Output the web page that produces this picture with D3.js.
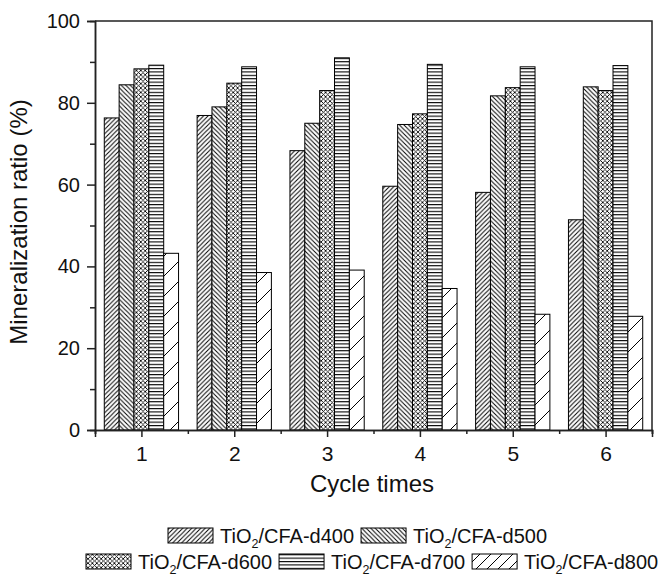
<!DOCTYPE html>
<html>
<head>
<meta charset="utf-8">
<script src="https://cdn.jsdelivr.net/npm/d3@7"></script>
<style>
  html, body { margin: 0; padding: 0; background: #fff; }
  svg { display: block; font-family: "Liberation Sans", Arial, Helvetica, sans-serif; }
</style>
</head>
<body>
<svg id="chart" width="662" height="577"></svg>
<script>
// ---- data ----
const categories = [1, 2, 3, 4, 5, 6];
const seriesNames = ["d400", "d500", "d600", "d700", "d800"];
const d400 = [76.3, 76.9, 68.3, 59.6, 58.1, 51.4];
const d500 = [84.4, 79.0, 75.0, 74.7, 81.7, 83.9];
const d600 = [88.3, 84.8, 83.0, 77.3, 83.7, 83.0];
const d700 = [89.2, 88.8, 91.0, 89.4, 88.8, 89.1];
const d800 = [43.2, 38.5, 39.1, 34.6, 28.3, 27.8];
const yTicks = [0, 20, 40, 60, 80, 100];
const yMinorTicks = [10, 30, 50, 70, 90];
const xMinorTicks = [0.5, 1.5, 2.5, 3.5, 4.5, 5.5, 6.5];
const yTitle = "Mineralization ratio (%)";
const xTitle = "Cycle times";

const seriesValues = [d400, d500, d600, d700, d800];

// ---- layout ----
const svg = d3.select("#chart");
const mLeft = 95, mRight = 652, mTop = 21, mBottom = 430;

const x = d3.scaleLinear().domain([0.5, 6.5]).range([mLeft, mRight]);
const y = d3.scaleLinear().domain([0, 100]).range([mBottom, mTop]);
const barW = (x(1) - x(0)) * 0.16;

// ---- patterns ----
const defs = svg.append("defs");
function linePattern(id, size, pathD, sw) {
  const p = defs.append("pattern").attr("id", id)
    .attr("patternUnits", "userSpaceOnUse")
    .attr("width", size).attr("height", size);
  p.append("rect").attr("width", size).attr("height", size).attr("fill", "#fff");
  p.append("path").attr("d", pathD).attr("stroke", "#000")
    .attr("stroke-width", sw).attr("fill", "none");
}
function fwd(s) { return `M${-s/2},${s/2} L${s/2},${-s/2} M0,${s} L${s},0 M${s/2},${s*1.5} L${s*1.5},${s/2}`; }
function bwd(s) { return `M${-s/2},${s/2} L${s/2},${s*1.5} M0,0 L${s},${s} M${s/2},${-s/2} L${s*1.5},${s/2}`; }

linePattern("p-d400", 4.5, fwd(4.5), 1);
linePattern("p-d500", 4.5, bwd(4.5), 1);
linePattern("p-d600", 4.4, fwd(4.4) + " " + bwd(4.4), 0.85);
(function () {
  const p = defs.append("pattern").attr("id", "p-d700")
    .attr("patternUnits", "userSpaceOnUse").attr("width", 6).attr("height", 3.4);
  p.append("rect").attr("width", 6).attr("height", 3.4).attr("fill", "#fff");
  p.append("rect").attr("y", 0).attr("width", 6).attr("height", 1.1).attr("fill", "#000");
})();
linePattern("p-d800", 20, fwd(20), 1);
linePattern("p-d800L", 11, fwd(11), 1);

const fills = { d400: "url(#p-d400)", d500: "url(#p-d500)", d600: "url(#p-d600)", d700: "url(#p-d700)", d800: "url(#p-d800)" };
const legendFills = { d400: "url(#p-d400)", d500: "url(#p-d500)", d600: "url(#p-d600)", d700: "url(#p-d700)", d800: "url(#p-d800L)" };

// ---- bars ----
const barsG = svg.append("g");
seriesNames.forEach((name, si) => {
  barsG.selectAll(null)
    .data(categories.map((c, i) => ({ c, v: seriesValues[si][i] })))
    .enter().append("rect")
    .attr("x", d => x(d.c) + (si - 2.5) * barW)
    .attr("y", d => y(d.v))
    .attr("width", barW)
    .attr("height", d => y(0) - y(d.v))
    .attr("fill", fills[name])
    .attr("stroke", "#000")
    .attr("stroke-width", 1);
});

// ---- frame ----
svg.append("path")
  .attr("d", `M${mLeft},${mTop} H${mRight} V${mBottom}`)
  .attr("fill", "none").attr("stroke", "#222").attr("stroke-width", 1.5);

// ---- axes ----
function styleAxis(g) {
  g.selectAll(".domain").attr("stroke", "#222").attr("stroke-width", 1.5);
  g.selectAll(".tick line").attr("stroke", "#222").attr("stroke-width", 1.5);
  g.selectAll(".tick text").attr("fill", "#111");
}

const xMinor = svg.append("g").attr("transform", `translate(0,${mBottom})`)
  .call(d3.axisBottom(x).tickValues(xMinorTicks).tickSize(4).tickFormat(""));
styleAxis(xMinor);
const xAxis = svg.append("g").attr("transform", `translate(0,${mBottom})`)
  .call(d3.axisBottom(x).tickValues(categories).tickSize(7).tickPadding(9).tickFormat(d3.format("d")));
xAxis.attr("font-size", 21).attr("font-family", null);
styleAxis(xAxis);

const yMinor = svg.append("g").attr("transform", `translate(${mLeft},0)`)
  .call(d3.axisLeft(y).tickValues(yMinorTicks).tickSize(5).tickFormat(""));
styleAxis(yMinor);
const yAxis = svg.append("g").attr("transform", `translate(${mLeft},0)`)
  .call(d3.axisLeft(y).tickValues(yTicks).tickSize(8).tickPadding(7).tickFormat(d3.format("d")));
yAxis.attr("font-size", 20).attr("font-family", null);
styleAxis(yAxis);

// ---- titles ----
svg.append("text")
  .attr("transform", `translate(27,222) rotate(-90)`)
  .attr("text-anchor", "middle")
  .attr("font-size", 24).attr("fill", "#111")
  .text(yTitle);

svg.append("text")
  .attr("x", 372).attr("y", 492)
  .attr("text-anchor", "middle")
  .attr("font-size", 24).attr("fill", "#111")
  .text(xTitle);

// ---- legend ----
const legendRows = [
  { start: 168, baseline: 543, items: ["d400", "d500"] },
  { start: 86, baseline: 569, items: ["d600", "d700", "d800"] }
];
const swW = 45, swH = 15, gap = 7;
legendRows.forEach(row => {
  let cx = row.start;
  row.items.forEach(name => {
    svg.append("rect")
      .attr("x", cx).attr("y", row.baseline - swH)
      .attr("width", swW).attr("height", swH)
      .attr("fill", legendFills[name]).attr("stroke", "#000").attr("stroke-width", 1);
    const t = svg.append("text")
      .attr("x", cx + swW + gap).attr("y", row.baseline)
      .attr("font-size", 20).attr("fill", "#111");
    t.append("tspan").text("TiO");
    t.append("tspan").attr("font-size", 12.5).attr("dy", 5).text("2");
    t.append("tspan").attr("dy", -5).text("/CFA-" + name);
    const w = t.node().getComputedTextLength();
    cx += swW + gap + w + gap;
  });
});
</script>
</body>
</html>
